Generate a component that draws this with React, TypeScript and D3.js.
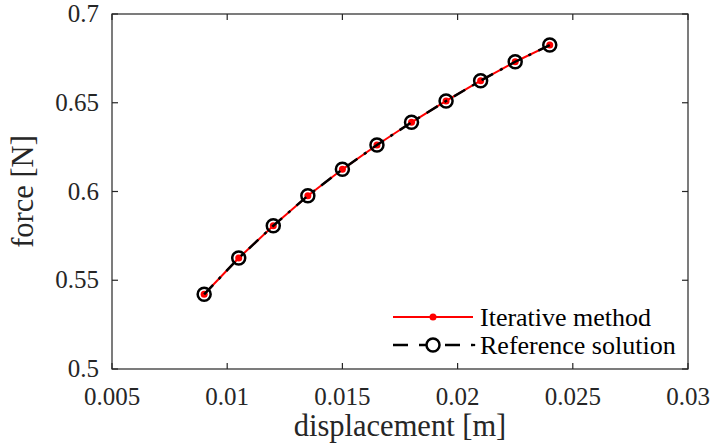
import React from "react";
import * as d3 from "d3";

// data
const displacement = [0.009, 0.0105, 0.012, 0.0135, 0.015, 0.0165, 0.018, 0.0195, 0.021, 0.0225, 0.024];
const iterativeForce = [0.5421, 0.5625, 0.5807, 0.5976, 0.6125, 0.6262, 0.639, 0.651, 0.6624, 0.6731, 0.6825];
const referenceForce = [0.5421, 0.5625, 0.5807, 0.5976, 0.6125, 0.6262, 0.639, 0.651, 0.6624, 0.6731, 0.6825];
const xTicks = [0.005, 0.01, 0.015, 0.02, 0.025, 0.03];
const xTickLabels = ["0.005", "0.01", "0.015", "0.02", "0.025", "0.03"];
const yTicks = [0.5, 0.55, 0.6, 0.65, 0.7];
const yTickLabels = ["0.5", "0.55", "0.6", "0.65", "0.7"];
const legendLabels = ["Iterative method", "Reference solution"];

const W = 712;
const H = 448;
const margin = { top: 14, right: 24, bottom: 79, left: 112 };
const FONT = "Liberation Serif, Times New Roman, Times, DejaVu Serif, serif";
const AXIS = "#262626";

const App = () => {
  const x = d3.scaleLinear().domain([0.005, 0.03]).range([margin.left, W - margin.right]);
  const y = d3.scaleLinear().domain([0.5, 0.7]).range([H - margin.bottom, margin.top]);

  const line = d3
    .line<number>()
    .x((d, i) => x(displacement[i]))
    .y((d) => y(d));

  const x0 = x.range()[0];
  const x1 = x.range()[1];
  const y0 = y.range()[0];
  const y1 = y.range()[1];
  const tick = 6;
  const dash = "13 8 3 8";

  // legend placement
  const lx0 = 393;
  const lx1 = 473;
  const lyRows = [317, 345];
  const lmx = (lx0 + lx1) / 2;

  return (
    <svg width={W} height={H} style={{ position: "absolute", left: 0, top: 0, background: "#fff", fontFamily: FONT }}>
      <rect x={0} y={0} width={W} height={H} fill="#fff" />

      {/* series */}
      <path d={line(iterativeForce) || ""} fill="none" stroke="#ff0000" strokeWidth={2} />
      {iterativeForce.map((v, i) => (
        <circle key={"r" + i} cx={x(displacement[i])} cy={y(v)} r={3.5} fill="#ff0000" />
      ))}
      <path
        d={line(referenceForce) || ""}
        fill="none"
        stroke="#000"
        strokeWidth={2.5}
        strokeDasharray={dash}
      />
      {referenceForce.map((v, i) => (
        <circle
          key={"b" + i}
          cx={x(displacement[i])}
          cy={y(v)}
          r={6.5}
          fill="none"
          stroke="#000"
          strokeWidth={2.5}
        />
      ))}

      {/* box */}
      <rect x={x0} y={y1} width={x1 - x0} height={y0 - y1} fill="none" stroke={AXIS} strokeWidth={1.2} />

      {/* ticks */}
      {xTicks.map((t, i) => (
        <g key={"xt" + i}>
          <line x1={x(t)} x2={x(t)} y1={y0} y2={y0 - tick} stroke={AXIS} strokeWidth={1.2} />
          <line x1={x(t)} x2={x(t)} y1={y1} y2={y1 + tick} stroke={AXIS} strokeWidth={1.2} />
          <text x={x(t)} y={y0 + 36} textAnchor="middle" fontSize={25} fill={AXIS}>
            {xTickLabels[i]}
          </text>
        </g>
      ))}
      {yTicks.map((t, i) => (
        <g key={"yt" + i}>
          <line x1={x0} x2={x0 + tick} y1={y(t)} y2={y(t)} stroke={AXIS} strokeWidth={1.2} />
          <line x1={x1} x2={x1 - tick} y1={y(t)} y2={y(t)} stroke={AXIS} strokeWidth={1.2} />
          <text x={x0 - 13} y={y(t) + 8} textAnchor="end" fontSize={25} fill={AXIS}>
            {yTickLabels[i]}
          </text>
        </g>
      ))}

      {/* axis labels */}
      <text x={(x0 + x1) / 2} y={436} textAnchor="middle" fontSize={30.5} fill={AXIS}>
        displacement [m]
      </text>
      <text
        transform={`translate(33,${(y0 + y1) / 2}) rotate(-90)`}
        textAnchor="middle"
        fontSize={30.5}
        fill={AXIS}
      >
        force [N]
      </text>

      {/* legend */}
      <line x1={lx0} x2={lx1} y1={lyRows[0]} y2={lyRows[0]} stroke="#ff0000" strokeWidth={2} />
      <circle cx={lmx} cy={lyRows[0]} r={3.5} fill="#ff0000" />
      <text x={lx1 + 7} y={lyRows[0] + 9} fontSize={26} fill="#000">
        {legendLabels[0]}
      </text>
      <line
        x1={lx0}
        x2={lx1}
        y1={lyRows[1]}
        y2={lyRows[1]}
        stroke="#000"
        strokeWidth={2.5}
        strokeDasharray="15 11"
      />
      <circle cx={lmx} cy={lyRows[1]} r={6.5} fill="#fff" stroke="#000" strokeWidth={2.5} />
      <circle cx={lx1 + 1} cy={lyRows[1]} r={1.3} fill="#000" />
      <text x={lx1 + 7} y={lyRows[1] + 9} fontSize={26} fill="#000">
        {legendLabels[1]}
      </text>
    </svg>
  );
};

export default App;
